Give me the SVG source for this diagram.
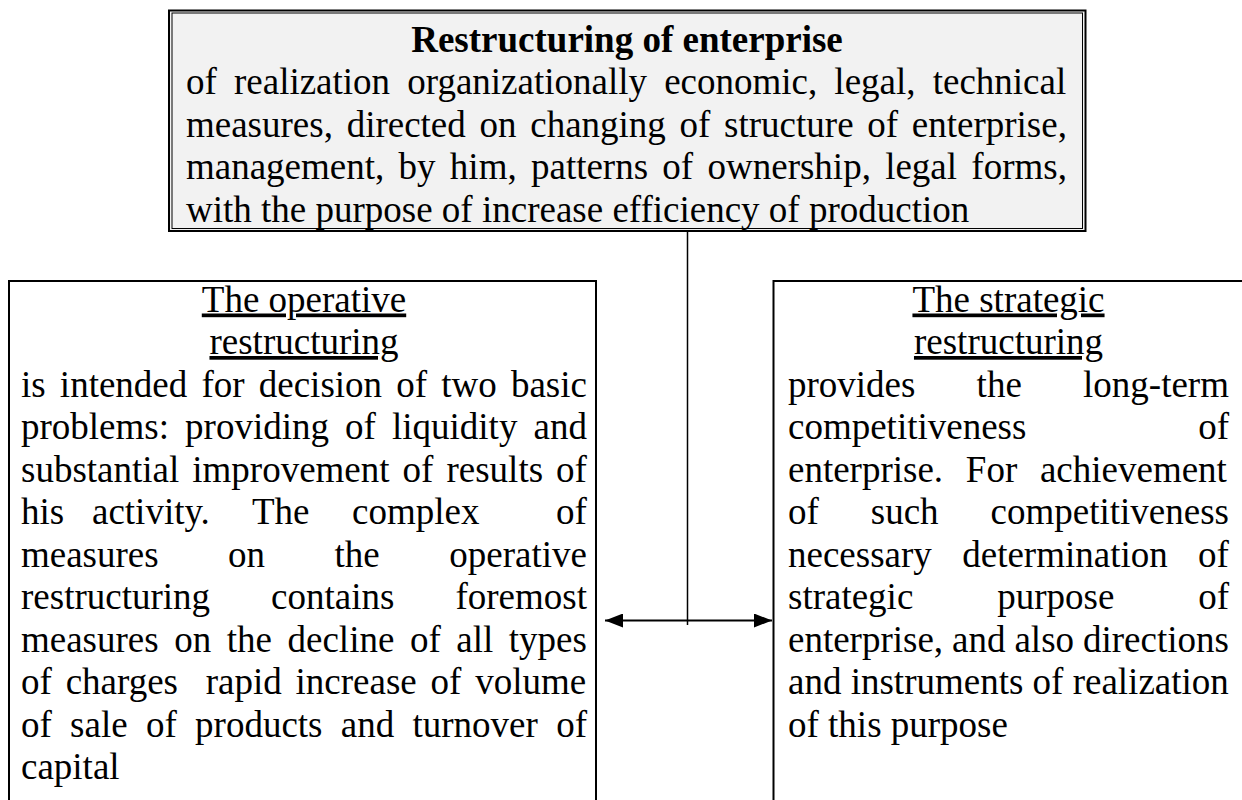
<svg xmlns="http://www.w3.org/2000/svg" width="1242" height="800" viewBox="0 0 1242 800">
<style>
.t { font-family: "Liberation Serif", "Times New Roman", serif; font-size: 37px; fill: #000; }
.b { font-weight: bold; }
.u { text-decoration: underline; }
.c { text-anchor: middle; }
.box { fill: #fff; stroke: #000; stroke-width: 2; }
.ln { stroke: #000; fill: none; }
</style>
<defs>
<marker id="ah" viewBox="0 0 18 14" refX="18" refY="7" markerWidth="18" markerHeight="14" markerUnits="userSpaceOnUse" orient="auto-start-reverse">
<path d="M0,0 L18,7 L0,14 z" fill="#000"/>
</marker>
</defs>
<rect width="1242" height="800" fill="#fff"/>

<g id="node-top">
<rect x="169" y="10.5" width="916.5" height="220.5" fill="#f2f2f2" stroke="#000" stroke-width="2"/>
<rect x="172" y="13" width="910.5" height="215.5" fill="none" stroke="#000" stroke-width="1"/>
<text class="t b c" x="627" y="51.5">Restructuring of enterprise</text>
<text class="t" x="186" y="94" word-spacing="7.9">of realization organizationally economic, legal, technical</text>
<text class="t" x="186" y="136.5" word-spacing="4.47">measures, directed on changing of structure of enterprise,</text>
<text class="t" x="186" y="179" word-spacing="5.04">management, by him, patterns of ownership, legal forms,</text>
<text class="t" x="186" y="221.5">with the purpose of increase efficiency of production</text>
</g>

<g id="node-operative">
<rect class="box" x="9" y="281" width="587" height="600"/>
<text class="t u c" x="304" y="311.5">The operative</text>
<text class="t u c" x="304" y="354">restructuring</text>
<text class="t" x="21" y="396.5" word-spacing="4.93">is intended for decision of two basic</text>
<text class="t" x="21" y="439" word-spacing="6.85">problems: providing of liquidity and</text>
<text class="t" x="21" y="481.5" word-spacing="3.78">substantial improvement of results of</text>
<text class="t" y="524"><tspan x="21">his</tspan><tspan x="92">activity.</tspan><tspan x="252">The</tspan><tspan x="352">complex</tspan><tspan x="556">of</tspan></text>
<text class="t" x="21" y="566.5" word-spacing="60.2">measures on the operative</text>
<text class="t" x="21" y="609" word-spacing="51.8">restructuring contains foremost</text>
<text class="t" x="21" y="651.5" word-spacing="6.3">measures on the decline of all types</text>
<text class="t" x="21" y="694" word-spacing="4.6" xml:space="preserve">of charges  rapid increase of volume</text>
<text class="t" x="21" y="736.5" word-spacing="9.05">of sale of products and turnover of</text>
<text class="t" x="21" y="779">capital</text>
</g>

<g id="node-strategic">
<rect class="box" x="773.5" y="281" width="520" height="600"/>
<text class="t u c" x="1008.5" y="311.5">The strategic</text>
<text class="t u c" x="1008.5" y="354">restructuring</text>
<text class="t" x="788" y="396.5" word-spacing="51.95">provides the long-term</text>
<text class="t" x="788" y="439" word-spacing="162.5">competitiveness of</text>
<text class="t" x="788" y="481.5" word-spacing="13.45">enterprise. For achievement</text>
<text class="t" x="788" y="524" word-spacing="42.7">of such competitiveness</text>
<text class="t" x="788" y="566.5" word-spacing="21.15">necessary determination of</text>
<text class="t" x="788" y="609" word-spacing="74.6">strategic purpose of</text>
<text class="t" x="788" y="651.5" word-spacing="-0.3">enterprise, and also directions</text>
<text class="t" x="788" y="694">and instruments of realization</text>
<text class="t" x="788" y="736.5">of this purpose</text>
</g>

<g id="connectors">
<line class="ln" x1="687.5" y1="232" x2="687.5" y2="625" stroke-width="1.5"/>
<line class="ln" x1="605" y1="620.5" x2="772" y2="620.5" stroke-width="2" marker-start="url(#ah)" marker-end="url(#ah)"/>
</g>
</svg>
